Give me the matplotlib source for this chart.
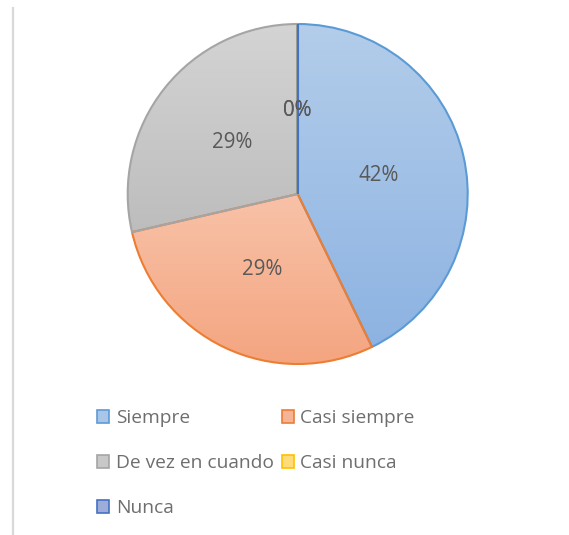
import numpy as np
import matplotlib
matplotlib.use("Agg")
import matplotlib.pyplot as plt
from matplotlib.patches import Patch
from matplotlib.lines import Line2D
from matplotlib.colors import to_rgb

# ---- data ----
categories = ["Siempre", "Casi siempre", "De vez en cuando", "Casi nunca", "Nunca"]
values = [42.8, 28.6, 28.6, 0, 0]
pct_labels = ["42%", "29%", "29%", "0%", "0%"]

# ---- styles ----
grad_top = ["#b3cdea", "#f8c2a8", "#d4d4d4", "#ffe08a", "#a9b8df"]
grad_bot = ["#8db3e2", "#f4a580", "#bdbdbd", "#ffd45a", "#8fa2d6"]
edges = ["#5b9bd5", "#ed7d31", "#a5a5a5", "#ffc000", "#4472c4"]
legend_fill = ["#a9c6e8", "#f6b496", "#c8c8c8", "#ffdb7a", "#9dacd8"]

plt.rcParams['font.family'] = ['Open Sans', 'DejaVu Sans']

W, H = 569, 535
fig = plt.figure(figsize=(W / 100, H / 100), dpi=100)
fig.patch.set_facecolor("white")

cx, cy, R = 297.7, 535 - 194.0, 170.0
ax = fig.add_axes([(cx - R) / W, (cy - R) / H, 2 * R / W, 2 * R / H])
ax.set_axis_off()

wedges, texts, autotexts = ax.pie(
    values, startangle=90, counterclock=False, radius=1.0,
    autopct=lambda p: "", pctdistance=0.49,
    wedgeprops=dict(linewidth=1.5, joinstyle="round"),
    textprops=dict(color="#595959", fontsize=14.8),
)

for i, w in enumerate(wedges):
    w.set_edgecolor(edges[i])
    w.set_zorder(3)
    if values[i] > 0:
        bb = w.get_path().get_extents()
        top = np.array(to_rgb(grad_top[i]))
        bot = np.array(to_rgb(grad_bot[i]))
        t = np.linspace(0, 1, 256)[:, None, None]
        img = top * (1 - t) + bot * t
        im = ax.imshow(img, extent=[bb.x0, bb.x1, bb.y0, bb.y1], origin="upper",
                       aspect="auto", zorder=2, interpolation="bilinear")
        im.set_clip_path(w)
    else:
        # zero-size slice: its edge is a single radius
        ang = np.deg2rad(w.theta1)
        ax.plot([w.center[0], w.center[0] + w.r * np.cos(ang)],
                [w.center[1], w.center[1] + w.r * np.sin(ang)],
                color=edges[i], linewidth=1.5, zorder=4, solid_capstyle="butt")
    w.set_facecolor("none")

for i, at in enumerate(autotexts):
    at.set_text(pct_labels[i])
    at.set_zorder(5)

ax.set_xlim(-1.0, 1.0)
ax.set_ylim(-1.0, 1.0)

# left border line
fig.add_artist(Line2D([12.5 / W, 12.5 / W], [0, 1 - 8 / H], transform=fig.transFigure,
                      color="#d9d9d9", linewidth=1.6))

# legend (row-major order as in reference)
order = [0, 2, 4, 1, 3]
handles = [Patch(facecolor=legend_fill[i], edgecolor=edges[i], linewidth=1.2) for i in order]
labels = [categories[i] for i in order]
leg = fig.legend(handles, labels, ncol=2, loc="upper left",
                 bbox_to_anchor=(97 / W, 1 - 409 / H),
                 frameon=False, fontsize=13.8, handlelength=0.65, handleheight=0.65,
                 handletextpad=0.33, columnspacing=0.42, labelspacing=1.42,
                 borderpad=0, borderaxespad=0)
for t in leg.get_texts():
    t.set_color("#6e6e6e")

fig.savefig("out.png", dpi=100, facecolor="white")
